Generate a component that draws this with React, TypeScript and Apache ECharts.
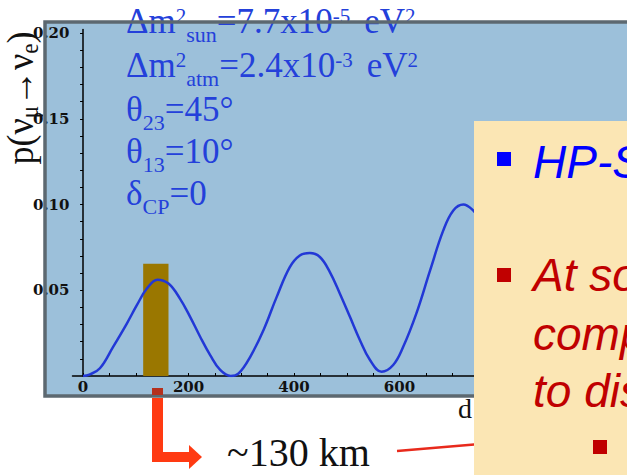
import React, { useEffect, useRef } from "react";
import * as echarts from "echarts";

// ---- data ----
const distanceKm = [0, 12, 32, 57, 83, 102, 121, 141, 162, 184, 203, 222, 241, 260, 280, 295, 317, 342, 367, 392, 411, 430, 449, 468, 487, 506, 525, 544, 566, 588, 607, 632, 658, 683, 702, 721, 740, 750];
const probability = [0, 0.0008, 0.0045, 0.017, 0.0306, 0.0413, 0.051, 0.0562, 0.0539, 0.045, 0.0345, 0.0229, 0.0122, 0.0035, 0, 0.0015, 0.0112, 0.0267, 0.046, 0.0635, 0.0703, 0.0717, 0.0694, 0.0606, 0.048, 0.0345, 0.0209, 0.0093, 0.0025, 0.0064, 0.017, 0.0365, 0.0616, 0.0849, 0.0965, 0.1, 0.0965, 0.092];
const xLabelValues = [0, 200, 400, 600];
const xTickValues = [0, 50, 100, 150, 200, 250, 300, 350, 400, 450, 500, 550, 600, 650, 700, 750];
const yLabelValues = [0.05, 0.1, 0.15, 0.2];
const yTickValues = [0.01, 0.02, 0.03, 0.04, 0.05, 0.06, 0.07, 0.08, 0.09, 0.1, 0.11, 0.12, 0.13, 0.14, 0.15, 0.16, 0.17, 0.18, 0.19, 0.2];
const bandKm = [114, 162];
const bandTop = 0.0655;

const paramLines = [
  "{m|Δm}{sup|2}{sub|sun}{m|=7.7x10}{sup|-5}{ev|eV}{sup|2}",
  "{m|Δm}{sup|2}{sub|atm}{m|=2.4x10}{sup|-3}{ev|eV}{sup|2}",
  "{m|θ}{sub|23}{m|=45°}",
  "{m|θ}{sub|13}{m|=10°}",
  "{m|δ}{sub|CP}{m|=0}",
];
const yTitle = "{m|p(ν}{sub|μ}{m|→ν}{sub|e}{m|)}";
const xTitle = "d";
const distanceNote = "~130 km";
const boxLines = [
  { text: "HP-S", color: "#0000ff" },
  { text: "At so", color: "#c00000" },
  { text: "comp", color: "#c00000" },
  { text: "to dis", color: "#c00000" },
];

export default function App() {
  const ref = useRef<HTMLDivElement>(null);
  useEffect(() => {
    const chart = echarts.init(ref.current!, null, { renderer: "svg" });
    const blue = "#2440da";
    const serif = "Liberation Serif";
    const paramBaselines = [33, 77, 121, 163, 205];
    const boxCenters = [162, 275, 334, 391];

    const graphics: any[] = [
      {
        type: "rect",
        z: -10,
        shape: { x: 45, y: 22, width: 650, height: 374 },
        style: { fill: "#9cc0da" },
      },
      ...paramLines.map((t, i) => ({
        type: "text",
        z: 50,
        x: 126,
        y: paramBaselines[i] - 11.8,
        style: {
          text: t,
          align: "left",
          verticalAlign: "middle",
          lineHeight: 44,
          rich: {
            m: { fontFamily: serif, fontSize: 35, fill: blue, lineHeight: 44 },
            ev: { fontFamily: serif, fontSize: 35, fill: blue, lineHeight: 44, padding: [0, 0, 0, 14] },
            sup: { fontFamily: serif, fontSize: 21, fill: blue, lineHeight: 44, padding: [0, 0, 10.6, 0] },
            sub: { fontFamily: serif, fontSize: 22, fill: blue, lineHeight: 44, padding: [26.8, 0, 0, 0] },
          },
        },
      })),
      {
        type: "rect",
        z: 55,
        shape: { x: 45, y: 22, width: 650, height: 374 },
        style: { fill: "none", stroke: "#5c6870", lineWidth: 3.5 },
      },
      {
        type: "text",
        z: 50,
        x: 20,
        y: 98,
        rotation: Math.PI / 2,
        scaleY: 1.05,
        style: {
          text: yTitle,
          align: "center",
          verticalAlign: "middle",
          lineHeight: 40,
          rich: {
            m: { fontFamily: serif, fontSize: 36, fill: "#111", lineHeight: 40 },
            sub: { fontFamily: serif, fontSize: 23, fill: "#111", lineHeight: 40, padding: [18, 0, 0, 0] },
          },
        },
      },
      {
        type: "text",
        z: 40,
        x: 458,
        y: 408,
        style: { text: xTitle, fontFamily: serif, fontSize: 28, fill: "#111", align: "left", verticalAlign: "middle" },
      },
      // red arrow
      { type: "rect", z: 60, shape: { x: 152, y: 388, width: 11, height: 7 }, style: { fill: "#b5301d" } },
      { type: "rect", z: 60, shape: { x: 152, y: 398, width: 11, height: 64 }, style: { fill: "#ff3a12" } },
      { type: "rect", z: 60, shape: { x: 152, y: 452, width: 38, height: 10 }, style: { fill: "#ff3a12" } },
      { type: "polygon", z: 60, shape: { points: [[189, 445], [202, 457], [189, 469]] }, style: { fill: "#ff3a12" } },
      {
        type: "text",
        z: 60,
        x: 227,
        y: 452.5,
        style: {
          text: distanceNote,
          fontFamily: serif,
          fontSize: 40,
          lineHeight: 38,
          fill: "#111",
          align: "left",
          verticalAlign: "middle",
        },
      },
      { type: "line", z: 60, shape: { x1: 397, y1: 451, x2: 480, y2: 444 }, style: { stroke: "#e82a1c", lineWidth: 2.5 } },
      // yellow box
      { type: "rect", z: 80, shape: { x: 474, y: 121, width: 160, height: 360 }, style: { fill: "#fbe6b4" } },
      { type: "rect", z: 90, shape: { x: 497, y: 152, width: 14, height: 14 }, style: { fill: "#0000ff" } },
      { type: "rect", z: 90, shape: { x: 497, y: 268, width: 14, height: 14 }, style: { fill: "#c00000" } },
      { type: "rect", z: 90, shape: { x: 593, y: 440, width: 14, height: 14 }, style: { fill: "#c00000" } },
      ...boxLines.map((b, i) => ({
        type: "text",
        z: 90,
        x: 533,
        y: boxCenters[i],
        style: {
          text: b.text,
          fontFamily: "Liberation Sans",
          fontStyle: "italic",
          fontSize: 46,
          fill: b.color,
          align: "left",
          verticalAlign: "middle",
        },
      })),
    ];

    const option: any = {
      animation: false,
      backgroundColor: "#ffffff",
      grid: { left: 72.5, right: 122, top: 29.6, bottom: 99, containLabel: false, outerBoundsMode: "none" },
      xAxis: {
        type: "value",
        min: -20,
        max: 800,
        axisLine: { show: true, onZero: true, lineStyle: { color: "#000", width: 1.5 } },
        axisTick: { show: true, inside: true, length: 3, customValues: xTickValues, lineStyle: { color: "#000", width: 1 } },
        axisLabel: {
          customValues: xLabelValues,
          fontFamily: "DejaVu Serif",
          fontWeight: "bold",
          fontSize: 15,
          color: "#111",
          margin: 3,
        },
        splitLine: { show: false },
      },
      yAxis: {
        type: "value",
        min: 0,
        max: 0.202,
        axisLine: { show: true, onZero: true, lineStyle: { color: "#000", width: 1.5 } },
        axisTick: { show: true, inside: false, length: 3, customValues: yTickValues, lineStyle: { color: "#000", width: 1 } },
        axisLabel: {
          customValues: yLabelValues,
          formatter: (v: number) => v.toFixed(2),
          fontFamily: "DejaVu Serif",
          fontWeight: "bold",
          fontSize: 15,
          color: "#111",
          margin: 3,
        },
        splitLine: { show: false },
      },
      series: [
        {
          type: "line",
          data: distanceKm.map((d, i) => [d, probability[i]]),
          smooth: 0.4,
          showSymbol: false,
          lineStyle: { color: "#2238d6", width: 2.5 },
          z: 3,
          markArea: {
            silent: true,
            itemStyle: { color: "#9a7700", opacity: 1 },
            data: [[{ xAxis: bandKm[0], yAxis: 0 }, { xAxis: bandKm[1], yAxis: bandTop }]],
          },
        },
      ],
      graphic: { elements: graphics },
    };
    chart.setOption(option);
    return () => chart.dispose();
  }, []);
  return (
    <div
      ref={ref}
      style={{ position: "fixed", left: 0, top: 0, width: 627, height: 475, background: "#fff" }}
    />
  );
}
